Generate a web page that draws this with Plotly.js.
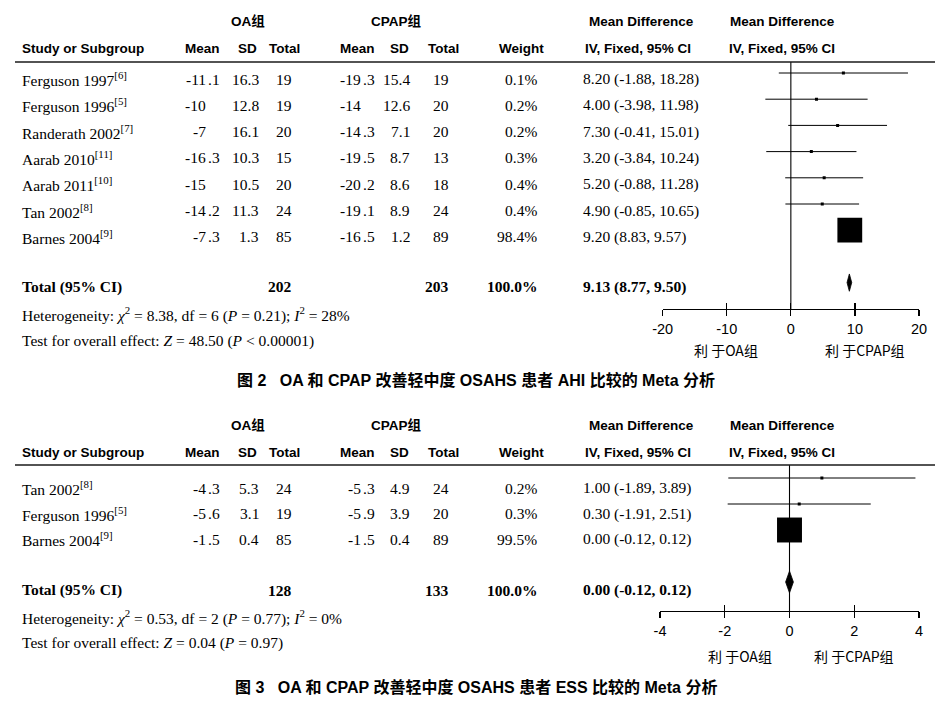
<!DOCTYPE html>
<html><head><meta charset="utf-8">
<script src="https://cdn.plot.ly/plotly-3.0.1.min.js"></script>
<style>html,body{margin:0;padding:0;background:#fff}#chart{width:945px;height:708px}</style>
</head><body><div id="chart"></div>
<script>
// ---------- Figure 2 (AHI) data ----------
const studies1 = ['Ferguson 1997','Ferguson 1996','Randerath 2002','Aarab 2010','Aarab 2011','Tan 2002','Barnes 2004'];
const refs1    = ['[6]','[5]','[7]','[11]','[10]','[8]','[9]'];
const oaMean1  = [-11.1,-10,-7,-16.3,-15,-14.2,-7.3];
const oaSD1    = [16.3,12.8,16.1,10.3,10.5,11.3,1.3];
const oaN1     = [19,19,20,15,20,24,85];
const cpMean1  = [-19.3,-14,-14.3,-19.5,-20.2,-19.1,-16.5];
const cpSD1    = [15.4,12.6,7.1,8.7,8.6,8.9,1.2];
const cpN1     = [19,20,20,13,18,24,89];
const weight1  = [0.1,0.2,0.2,0.3,0.4,0.4,98.4];
const md1      = [8.20,4.00,7.30,3.20,5.20,4.90,9.20];
const lo1      = [-1.88,-3.98,-0.41,-3.84,-0.88,-0.85,8.83];
const hi1      = [18.28,11.98,15.01,10.24,11.28,10.65,9.57];
const total1   = {oaN:202, cpN:203, weight:100.0, md:9.13, lo:8.77, hi:9.50};
const hetText1 = 'Heterogeneity: <i>χ</i><sup>2</sup> = 8.38, df = 6 (<i>P</i> = 0.21); <i>I</i><sup>2</sup> = 28%';
const testText1= 'Test for overall effect: <i>Z</i> = 48.50 (<i>P</i> &lt; 0.00001)';
const ticks1   = [-20,-10,0,10,20];
const caption1 = '图 2\u00a0\u00a0\u00a0OA 和 CPAP 改善轻中度 OSAHS 患者 AHI 比较的 Meta 分析';

// ---------- Figure 3 (ESS) data ----------
const studies2 = ['Tan 2002','Ferguson 1996','Barnes 2004'];
const refs2    = ['[8]','[5]','[9]'];
const oaMean2  = [-4.3,-5.6,-1.5];
const oaSD2    = [5.3,3.1,0.4];
const oaN2     = [24,19,85];
const cpMean2  = [-5.3,-5.9,-1.5];
const cpSD2    = [4.9,3.9,0.4];
const cpN2     = [24,20,89];
const weight2  = [0.2,0.3,99.5];
const md2      = [1.00,0.30,0.00];
const lo2      = [-1.89,-1.91,-0.12];
const hi2      = [3.89,2.51,0.12];
const total2   = {oaN:128, cpN:133, weight:100.0, md:0.00, lo:-0.12, hi:0.12};
const hetText2 = 'Heterogeneity: <i>χ</i><sup>2</sup> = 0.53, df = 2 (<i>P</i> = 0.77); <i>I</i><sup>2</sup> = 0%';
const testText2= 'Test for overall effect: <i>Z</i> = 0.04 (<i>P</i> = 0.97)';
const ticks2   = [-4,-2,0,2,4];
const caption2 = '图 3\u00a0\u00a0\u00a0OA 和 CPAP 改善轻中度 OSAHS 患者 ESS 比较的 Meta 分析';

const favorOA = '利 于OA组', favorCP = '利 于CPAP组';

// ---------- helpers ----------
const W=945, H=708;
const PX = x => x/W, PY = y => 1 - y/H;
const SERIF = 'Liberation Serif, Times New Roman, serif';
const SANS  = 'Liberation Sans, Arial, Noto Sans CJK SC, sans-serif';
const CJK   = 'Noto Sans CJK SC, Liberation Sans, sans-serif';
const annotations = [], shapes = [], traces = [], layoutAxes = {};

function ann(text, x, y, xanchor, family, size){
  annotations.push({text, x:PX(x), y:PY(y), xref:'paper', yref:'paper', xanchor, yanchor:'middle',
    showarrow:false, borderpad:0, font:{family, size, color:'#000'}});
}
function decimal(str, x, y, family, size){
  const i = str.indexOf('.');
  if (i < 0) { ann(str, x, y, 'right', family, size); }
  else { ann(str.slice(0,i), x, y, 'right', family, size); ann(str.slice(i), x, y, 'left', family, size); }
}
const fs = 15.5, hs = 13.5;

function panel(d, g, n){
  // header texts
  ann('<b>OA组</b>', 248, g.h1, 'center', SANS, hs);
  ann('<b>CPAP组</b>', 396, g.h1, 'center', SANS, hs);
  ann('<b>Mean Difference</b>', 641, g.h1, 'center', SANS, hs);
  ann('<b>Mean Difference</b>', 782, g.h1, 'center', SANS, hs);
  ann('<b>Study or Subgroup</b>', 21, g.h2, 'left', SANS, hs);
  ann('<b>Mean</b>', 202, g.h2, 'center', SANS, hs);
  ann('<b>SD</b>', 248, g.h2, 'center', SANS, hs);
  ann('<b>Total</b>', 284, g.h2, 'center', SANS, hs);
  ann('<b>Mean</b>', 357, g.h2, 'center', SANS, hs);
  ann('<b>SD</b>', 399, g.h2, 'center', SANS, hs);
  ann('<b>Total</b>', 443, g.h2, 'center', SANS, hs);
  ann('<b>Weight</b>', 521, g.h2, 'center', SANS, hs);
  ann('<b>IV, Fixed, 95% CI</b>', 638, g.h2, 'center', SANS, hs);
  ann('<b>IV, Fixed, 95% CI</b>', 782, g.h2, 'center', SANS, hs);
  shapes.push({type:'line', xref:'paper', yref:'paper', x0:PX(15), x1:PX(935), y0:PY(g.line), y1:PY(g.line),
    line:{color:'#1a1a1a', width:1.6}});

  // study rows
  d.studies.forEach((s, i) => {
    const y = g.row0 + g.step*i;
    ann(s + '<sup>' + d.refs[i] + '</sup>', 21, y, 'left', SERIF, fs);
    decimal(String(d.oaMean[i]), 206.5, y, SERIF, fs);
    ann(String(d.oaSD[i]), 259.5, y, 'right', SERIF, fs);
    ann(String(d.oaN[i]), 293, y, 'right', SERIF, fs);
    decimal(String(d.cpMean[i]), 361.5, y, SERIF, fs);
    ann(String(d.cpSD[i]), 410.5, y, 'right', SERIF, fs);
    ann(String(d.cpN[i]), 450, y, 'right', SERIF, fs);
    ann(d.weight[i].toFixed(1) + '%', 538, y, 'right', SERIF, fs);
    ann(d.md[i].toFixed(2) + ' (' + d.lo[i].toFixed(2) + ', ' + d.hi[i].toFixed(2) + ')', 582, y, 'left', SERIF, fs);
  });
  // totals
  const t = d.total;
  ann('<b>Total (95% CI)</b>', 21, g.total, 'left', SERIF, fs);
  ann('<b>' + t.oaN + '</b>', 293, g.total, 'right', SERIF, fs);
  ann('<b>' + t.cpN + '</b>', 450, g.total, 'right', SERIF, fs);
  ann('<b>' + t.weight.toFixed(1) + '%</b>', 538, g.total, 'right', SERIF, fs);
  ann('<b>' + t.md.toFixed(2) + ' (' + t.lo.toFixed(2) + ', ' + t.hi.toFixed(2) + ')</b>', 582, g.total, 'left', SERIF, fs);
  ann(d.het, 21, g.het, 'left', SERIF, fs);
  ann(d.test, 21, g.test, 'left', SERIF, fs);
  ann(favorOA, g.favOA, g.fav, 'center', CJK, 14);
  ann(favorCP, g.favCP, g.fav, 'center', CJK, 14);
  ann('<b>' + d.caption + '</b>', 476, g.cap, 'center', SANS, 16);

  // forest axes
  const xa = 'xaxis' + (n===1?'':n), ya = 'yaxis' + (n===1?'':n);
  const xo = 'xaxis' + (n+2);
  const xr = 'x' + (n===1?'':n), yr = 'y' + (n===1?'':n), xor = 'x' + (n+2);
  const dom = [PX(g.x0), PX(g.x1)];
  layoutAxes[xa] = {domain:dom, range:d.range, anchor:yr, tickvals:d.ticks, ticktext:d.ticks.map(String),
    ticks:'outside', ticklen:6, tickwidth:1.2, tickcolor:'#000', showline:true, linecolor:'#000', linewidth:1.3,
    showgrid:false, zeroline:false, fixedrange:true, tickfont:{family:SANS, size:14.5, color:'#000'}};
  layoutAxes[xo] = {domain:dom, range:d.range, overlaying:xr, anchor:yr, tickvals:d.ticks,
    ticks:'inside', ticklen:6, tickwidth:1.2, tickcolor:'#000', showticklabels:false, showline:false,
    showgrid:false, zeroline:false, fixedrange:true};
  layoutAxes[ya] = {domain:[PY(g.axis), PY(g.line)],
    range:[(g.axis - g.f0)/g.fstep, (g.line - g.f0)/g.fstep],
    showticklabels:false, showgrid:false, zeroline:false, showline:false, ticks:'', fixedrange:true};
  shapes.push({type:'line', xref:xr, yref:yr + ' domain', x0:0, x1:0, y0:0, y1:1, layer:'below',
    line:{color:'#000', width:1.1}});

  // CI lines
  const lx = [], ly = [];
  d.studies.forEach((s, i) => { lx.push(d.lo[i], d.hi[i], null); ly.push(i, i, null); });
  traces.push({type:'scatter', mode:'lines', x:lx, y:ly, xaxis:xr, yaxis:yr,
    line:{color:'#000', width:1}, hoverinfo:'skip'});
  // point estimates (box size from weight)
  traces.push({type:'scatter', mode:'markers', x:d.md, y:d.studies.map((s,i)=>i), xaxis:xr, yaxis:yr,
    marker:{symbol:'square', color:'#000', opacity:1, size:d.weight.map(w => Math.max(3, 2.5*Math.sqrt(w))), line:{width:0}},
    hoverinfo:'skip'});
  // diamond
  const r = g.totalRow, h = g.dh;
  traces.push({type:'scatter', mode:'lines', x:[t.lo, t.md, t.hi, t.md, t.lo], y:[r, r-h, r, r+h, r],
    xaxis:xr, yaxis:yr, fill:'toself', fillcolor:'#000', line:{color:'#000', width:0.8}, hoverinfo:'skip'});
  // carrier trace for overlay tick axis
  traces.push({type:'scatter', mode:'markers', x:[d.range[0]], y:[-5], xaxis:xor, yaxis:yr,
    marker:{opacity:0}, hoverinfo:'skip'});
}

panel({studies:studies1, refs:refs1, oaMean:oaMean1, oaSD:oaSD1, oaN:oaN1, cpMean:cpMean1, cpSD:cpSD1, cpN:cpN1,
       weight:weight1, md:md1, lo:lo1, hi:hi1, total:total1, het:hetText1, test:testText1, range:[ticks1[0], ticks1[4]],
       ticks:ticks1, caption:caption1},
      {h1:22, h2:48, line:62, row0:79, step:26.3, total:287, het:315, test:341, axis:309, fav:350, cap:380,
       favOA:726, favCP:865, x0:662.7, x1:919, f0:73, fstep:26.2, totalRow:8, dh:0.33}, 1);
panel({studies:studies2, refs:refs2, oaMean:oaMean2, oaSD:oaSD2, oaN:oaN2, cpMean:cpMean2, cpSD:cpSD2, cpN:cpN2,
       weight:weight2, md:md2, lo:lo2, hi:hi2, total:total2, het:hetText2, test:testText2, range:[ticks2[0], ticks2[4]],
       ticks:ticks2, caption:caption2},
      {h1:425, h2:452, line:465, row0:488, step:25.5, total:590, het:617, test:643, axis:611, fav:656, cap:687,
       favOA:740, favCP:854, x0:660, x1:919, f0:478, fstep:26, totalRow:4, dh:0.42}, 2);

const layout = Object.assign({
  width:W, height:H, margin:{l:0, r:0, t:0, b:0}, paper_bgcolor:'#fff', plot_bgcolor:'rgba(0,0,0,0)',
  showlegend:false, annotations, shapes
}, layoutAxes);
Plotly.newPlot('chart', traces, layout, {staticPlot:true, displayModeBar:false});
</script></body></html>
